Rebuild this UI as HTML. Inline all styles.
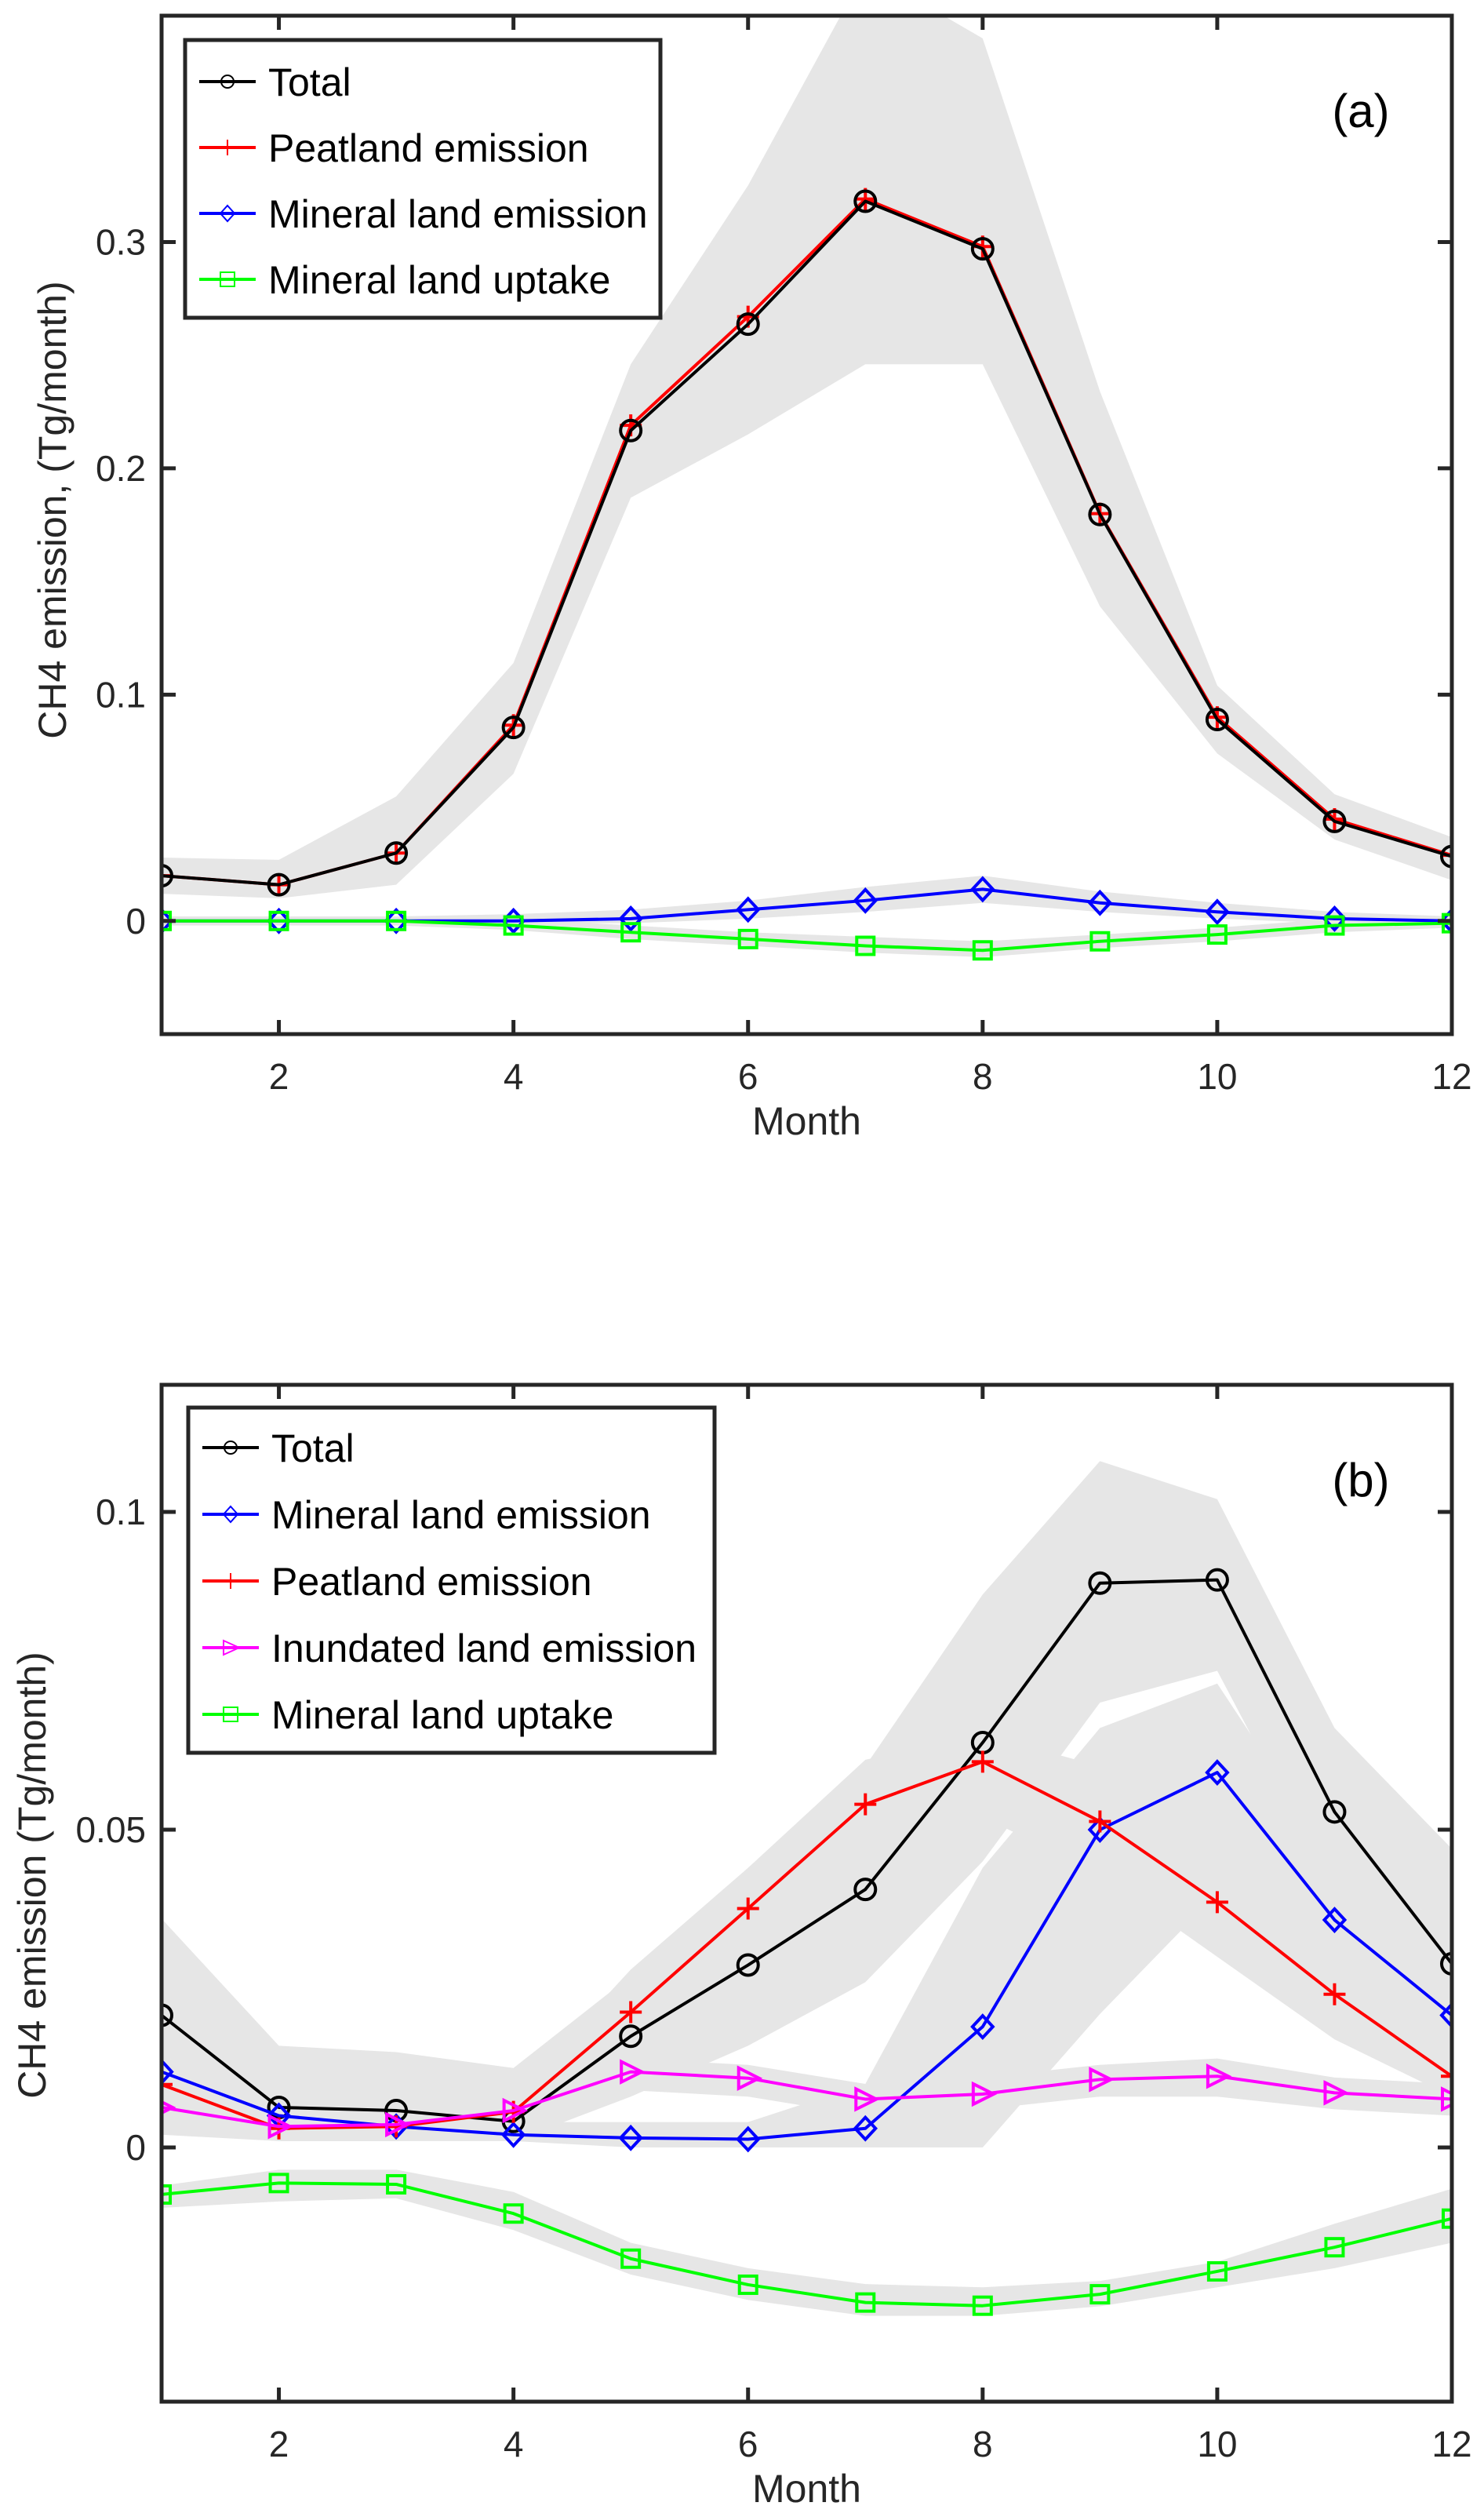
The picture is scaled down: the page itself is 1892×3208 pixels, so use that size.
<!DOCTYPE html>
<html><head><meta charset="utf-8">
<style>
html,body{margin:0;padding:0;background:#fff;}
svg{display:block;font-family:"Liberation Sans",Arial,sans-serif;}
</style></head>
<body>
<svg id="chart" width="1892" height="3208" viewBox="0 0 1892 3208" xmlns="http://www.w3.org/2000/svg"></svg>
<script>
// ---------- data ----------
const months = [1,2,3,4,5,6,7,8,9,10,11,12];
const xTicks = [2,4,6,8,10,12];
const yTicksA = [0,0.1,0.2,0.3];
const yTickLabelsA = ["0","0.1","0.2","0.3"];
const yTicksB = [0,0.05,0.1];
const yTickLabelsB = ["0","0.05","0.1"];

// Panel (a)
const aTotal    = [0.020,0.016,0.030,0.0855,0.2167,0.2637,0.318,0.297,0.1796,0.089,0.044,0.0285];
const aPeat     = [0.020,0.016,0.030,0.0865,0.219,0.267,0.319,0.298,0.180,0.090,0.045,0.029];
const aMinEm    = [0,0,0,0,0.001,0.005,0.009,0.014,0.008,0.004,0.001,0];
const aUptake   = [0,0,0,-0.002,-0.005,-0.008,-0.011,-0.013,-0.009,-0.006,-0.002,-0.001];
const aTotalHi  = [0.028,0.027,0.055,0.114,0.246,0.325,0.42,0.39,0.234,0.104,0.056,0.037];
const aTotalLo  = [0.012,0.010,0.016,0.065,0.187,0.215,0.246,0.246,0.139,0.074,0.036,0.018];
const aMinEmHi  = [0.002,0.002,0.002,0.003,0.005,0.009,0.015,0.020,0.013,0.008,0.004,0.002];
const aMinEmLo  = [-0.001,-0.001,-0.001,-0.001,-0.001,0.001,0.004,0.008,0.004,0.001,-0.001,-0.001];
const aUptakeHi = [0.001,0.001,0.001,0.001,-0.002,-0.005,-0.007,-0.009,-0.006,-0.003,0.001,0.001];
const aUptakeLo = [-0.002,-0.002,-0.002,-0.004,-0.008,-0.011,-0.014,-0.016,-0.012,-0.009,-0.005,-0.003];

// Panel (b)
const bTotal    = [0.0208,0.0063,0.0058,0.0041,0.0175,0.0287,0.0406,0.0637,0.0888,0.0893,0.0528,0.0289];
const bMinEm    = [0.0119,0.0050,0.0033,0.0020,0.0015,0.0013,0.0030,0.0190,0.0500,0.0590,0.0358,0.0208];
const bPeat     = [0.0099,0.0030,0.0033,0.0056,0.0213,0.0376,0.0540,0.0607,0.0513,0.0386,0.0241,0.0112];
const bInund    = [0.0063,0.0033,0.0036,0.0058,0.0119,0.0109,0.0076,0.0084,0.0107,0.0112,0.0086,0.0076];
const bUptake   = [-0.0074,-0.0056,-0.0058,-0.0104,-0.0175,-0.0216,-0.0244,-0.0249,-0.0231,-0.0195,-0.0157,-0.0112];
const bTotalHi  = [0.036,0.016,0.015,0.0125,0.027,0.044,0.060,0.087,0.108,0.102,0.066,0.047];
const bTotalLo  = [0.003,0.001,0.001,0.001,0.008,0.016,0.026,0.045,0.070,0.075,0.040,0.013];
const bMinEmHi  = [0.015,0.007,0.005,0.004,0.004,0.004,0.010,0.044,0.066,0.073,0.045,0.027];
const bMinEmLo  = [0.008,0.003,0.002,0.001,0.000,0.000,0.000,0.000,0.021,0.040,0.020,0.012];
const bPeatHi   = [0.013,0.006,0.006,0.008,0.028,0.044,0.061,0.065,0.060,0.050,0.030,0.014];
const bPeatLo   = [0.006,0.001,0.001,0.003,0.014,0.028,0.045,0.052,0.043,0.030,0.017,0.008];
const bInundHi  = [0.010,0.006,0.006,0.008,0.014,0.013,0.010,0.011,0.013,0.014,0.011,0.010];
const bInundLo  = [0.002,0.001,0.001,0.003,0.009,0.008,0.005,0.006,0.008,0.008,0.006,0.005];
const bUptakeHi = [-0.006,-0.0035,-0.0035,-0.007,-0.015,-0.019,-0.0215,-0.022,-0.021,-0.018,-0.012,-0.0065];
const bUptakeLo = [-0.0095,-0.0085,-0.008,-0.013,-0.020,-0.024,-0.0265,-0.0265,-0.025,-0.022,-0.019,-0.015];

// ---------- drawing ----------
const NS = "http://www.w3.org/2000/svg";
const svg = document.getElementById("chart");
function mk(tag, attrs, parent){
  const e = document.createElementNS(NS, tag);
  for (const k in attrs) e.setAttribute(k, attrs[k]);
  (parent||svg).appendChild(e);
  return e;
}
const L = 206, R = 1851;
function xS(m){ return L + (m-1)/11*(R-L); }

function marker(g, type, x, y, color){
  let e;
  const sw = 4;
  if (type==="circle"){ e = mk("circle",{cx:x,cy:y,r:13,fill:"none",stroke:color,"stroke-width":sw},g); }
  else if (type==="plus"){ e = mk("path",{d:`M${x-14},${y}H${x+14}M${x},${y-14}V${y+14}`,stroke:color,"stroke-width":sw,fill:"none"},g); }
  else if (type==="diamond"){ e = mk("path",{d:`M${x},${y-14}L${x+13},${y}L${x},${y+14}L${x-13},${y}Z`,stroke:color,"stroke-width":sw,fill:"none"},g); }
  else if (type==="tri"){ e = mk("path",{d:`M${x-12},${y-13}L${x+14},${y}L${x-12},${y+13}Z`,stroke:color,"stroke-width":sw,fill:"none"},g); }
  else { e = mk("rect",{x:x-11,y:y-11,width:22,height:22,stroke:color,"stroke-width":sw,fill:"none"},g); }
  
  
}

function panel(p){
  const yS = v => p.bot - (v - p.ymin)/(p.ymax - p.ymin)*(p.bot - p.top);
  const g = mk("g",{});
  
  
  const clipId = p.name + "-clip";
  const cp = mk("clipPath",{id:clipId},g);
  mk("rect",{x:L,y:p.top,width:R-L,height:p.bot-p.top},cp);
  const plot = mk("g",{"clip-path":`url(#${clipId})`},g);
  p.bands.forEach(b=>{
    let d = months.map((m,i)=>(i?"L":"M")+xS(m)+","+yS(b.hi[i])).join("");
    for (let i=months.length-1;i>=0;i--) d += "L"+xS(months[i])+","+yS(b.lo[i]);
    const e = mk("path",{d:d+"Z",fill:"#e6e6e6",stroke:"none"},plot);
    
    
  });
  p.series.forEach(s=>{
    const sg = mk("g",{},plot);
    
    
    const pts = months.map((m,i)=>xS(m)+","+yS(s.vals[i])).join(" ");
    const ln = mk("polyline",{points:pts,fill:"none",stroke:s.color,"stroke-width":4,"stroke-linejoin":"round"},sg);
    
    
    months.forEach((m,i)=>marker(sg, s.marker, xS(m), yS(s.vals[i]), s.color));
  });
  const box = mk("rect",{x:L,y:p.top,width:R-L,height:p.bot-p.top,fill:"none",stroke:"#262626","stroke-width":5},g);
  
  
  xTicks.forEach(t=>{
    const x = xS(t);
    mk("line",{x1:x,y1:p.bot,x2:x,y2:p.bot-18,stroke:"#262626","stroke-width":5},g);
    mk("line",{x1:x,y1:p.top,x2:x,y2:p.top+18,stroke:"#262626","stroke-width":5},g);
    const tx = mk("text",{x:x,y:p.bot+70,"text-anchor":"middle","font-size":46,fill:"#262626"},g);
    tx.textContent = t;
    
    
  });
  p.yticks.forEach((t,i)=>{
    const y = yS(t);
    mk("line",{x1:L,y1:y,x2:L+18,y2:y,stroke:"#262626","stroke-width":5},g);
    mk("line",{x1:R,y1:y,x2:R-18,y2:y,stroke:"#262626","stroke-width":5},g);
    const tx = mk("text",{x:L-20,y:y+16,"text-anchor":"end","font-size":46,fill:"#262626"},g);
    tx.textContent = p.ylabels[i];
    
    
  });
  const xt = mk("text",{x:(L+R)/2,y:p.bot+128,"text-anchor":"middle","font-size":50,fill:"#262626"},g);
  xt.textContent = "Month";
  
  
  const yt = mk("text",{x:0,y:0,transform:`translate(${p.ylabX},${p.ylabY}) rotate(-90)`,"text-anchor":"middle","font-size":50,fill:"#262626"},g);
  yt.textContent = p.ytitle;
  
  
  const pl = mk("text",{x:1735,y:p.top+142,"text-anchor":"middle","font-size":60,fill:"#000"},g);
  pl.textContent = p.label;
  
  
  const lg = mk("g",{},g);
  
  
  const lb = p.legend;
  mk("rect",{x:lb.x,y:lb.y,width:lb.w,height:lb.h,fill:"#fff",stroke:"#262626","stroke-width":5},lg);
  p.series.forEach((s,i)=>{
    const idx = lb.order ? lb.order.indexOf(i) : i;
    const cy = lb.y + lb.first + idx*lb.step;
    const le = mk("g",{},lg);
    
    
    mk("line",{x1:lb.x+18,y1:cy,x2:lb.x+90,y2:cy,stroke:s.color,"stroke-width":4},le);
    const lx = lb.x+54;
    if (s.marker==="circle") mk("circle",{cx:lx,cy:cy,r:8,fill:"none",stroke:s.color,"stroke-width":2},le);
    else if (s.marker==="plus") mk("path",{d:`M${lx-9},${cy}H${lx+9}M${lx},${cy-10}V${cy+10}`,stroke:s.color,"stroke-width":2},le);
    else if (s.marker==="diamond") mk("path",{d:`M${lx},${cy-10}L${lx+9},${cy}L${lx},${cy+10}L${lx-9},${cy}Z`,stroke:s.color,"stroke-width":2,fill:"none"},le);
    else if (s.marker==="tri") mk("path",{d:`M${lx-9},${cy-9}L${lx+11},${cy}L${lx-9},${cy+9}Z`,stroke:s.color,"stroke-width":2,fill:"none"},le);
    else mk("rect",{x:lx-9,y:cy-9,width:18,height:18,stroke:s.color,"stroke-width":2,fill:"none"},le);
    const t = mk("text",{x:lb.x+106,y:cy+18,"font-size":50,fill:"#000"},le);
    t.textContent = s.label;
  });
}

panel({
  name:"panel-a", top:20, bot:1318, ymin:-0.05, ymax:0.4,
  yticks:yTicksA, ylabels:yTickLabelsA, ytitle:"CH4 emission, (Tg/month)", ylabX:84, ylabY:650, label:"(a)",
  bands:[
    {name:"total-range-band",hi:aTotalHi,lo:aTotalLo},
    {name:"mineral-emission-range-band",hi:aMinEmHi,lo:aMinEmLo},
    {name:"uptake-range-band",hi:aUptakeHi,lo:aUptakeLo}
  ],
  series:[
    {name:"series-peatland",label:"Peatland emission",vals:aPeat,color:"#ff0000",marker:"plus"},
    {name:"series-total",label:"Total",vals:aTotal,color:"#000000",marker:"circle"},
    {name:"series-mineral-emission",label:"Mineral land emission",vals:aMinEm,color:"#0000ff",marker:"diamond"},
    {name:"series-uptake",label:"Mineral land uptake",vals:aUptake,color:"#00ff00",marker:"square"}
  ],
  legend:{x:236,y:51,w:606,h:354,first:53,step:84,order:[1,0,2,3]}
});

panel({
  name:"panel-b", top:1765, bot:3061, ymin:-0.04, ymax:0.12,
  yticks:yTicksB, ylabels:yTickLabelsB, ytitle:"CH4 emission (Tg/month)", ylabX:58, ylabY:2390, label:"(b)",
  bands:[
    {name:"total-range-band",hi:bTotalHi,lo:bTotalLo},
    {name:"mineral-emission-range-band",hi:bMinEmHi,lo:bMinEmLo},
    {name:"peatland-range-band",hi:bPeatHi,lo:bPeatLo},
    {name:"inundated-range-band",hi:bInundHi,lo:bInundLo},
    {name:"uptake-range-band",hi:bUptakeHi,lo:bUptakeLo}
  ],
  series:[
    {name:"series-total",label:"Total",vals:bTotal,color:"#000000",marker:"circle"},
    {name:"series-mineral-emission",label:"Mineral land emission",vals:bMinEm,color:"#0000ff",marker:"diamond"},
    {name:"series-peatland",label:"Peatland emission",vals:bPeat,color:"#ff0000",marker:"plus"},
    {name:"series-inundated",label:"Inundated land emission",vals:bInund,color:"#ff00ff",marker:"tri"},
    {name:"series-uptake",label:"Mineral land uptake",vals:bUptake,color:"#00ff00",marker:"square"}
  ],
  legend:{x:240,y:1794,w:671,h:440,first:51,step:85}
});
</script>
</body></html>
